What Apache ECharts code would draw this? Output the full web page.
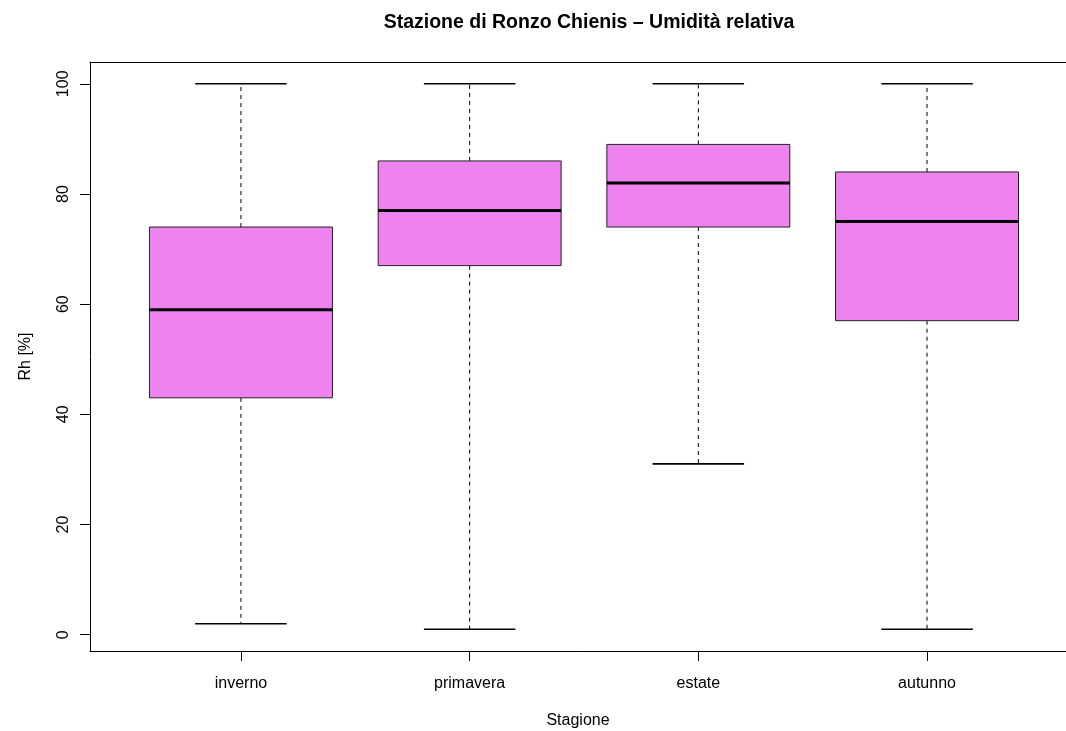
<!DOCTYPE html>
<html>
<head>
<meta charset="utf-8">
<script src="https://cdn.jsdelivr.net/npm/echarts@6/dist/echarts.min.js"></script>
<style>
html,body{margin:0;padding:0;background:#fff;}
#chart{width:1066px;height:731px;}
</style>
</head>
<body>
<div id="chart"></div>
<script>
const categories = ['inverno', 'primavera', 'estate', 'autunno'];
const lowerWhisker = [2, 1, 31, 1];
const q1 = [43, 67, 74, 57];
const median = [59, 77, 82, 75];
const q3 = [74, 86, 89, 84];
const upperWhisker = [100, 100, 100, 100];
const yTicks = [0, 20, 40, 60, 80, 100];
const xTicks = [1, 2, 3, 4];

const data = categories.map((c, i) => [i + 1, lowerWhisker[i], q1[i], median[i], q3[i], upperWhisker[i]]);

const FONT = '"Liberation Sans", Arial, Helvetica, sans-serif';
const chart = echarts.init(document.getElementById('chart'));

function renderItem(params, api) {
  const x = api.value(0);
  const lo = api.value(1), a = api.value(2), m = api.value(3), b = api.value(4), hi = api.value(5);
  const half = 0.4, capHalf = 0.2;
  const p = (xx, yy) => api.coord([xx, yy]);
  const cx = p(x, 0)[0];
  const children = [];
  children.push({type:'line', shape:{x1:cx, y1:p(x,b)[1], x2:cx, y2:p(x,hi)[1]},
    style:{stroke:'#000', lineWidth:1, lineDash:[4,4]}});
  children.push({type:'line', shape:{x1:cx, y1:p(x,a)[1], x2:cx, y2:p(x,lo)[1]},
    style:{stroke:'#000', lineWidth:1, lineDash:[4,4]}});
  children.push({type:'line', shape:{x1:p(x-capHalf,hi)[0], y1:p(x,hi)[1], x2:p(x+capHalf,hi)[0], y2:p(x,hi)[1]},
    style:{stroke:'#000', lineWidth:1.6}});
  children.push({type:'line', shape:{x1:p(x-capHalf,lo)[0], y1:p(x,lo)[1], x2:p(x+capHalf,lo)[0], y2:p(x,lo)[1]},
    style:{stroke:'#000', lineWidth:1.6}});
  const tl = p(x-half, b), br = p(x+half, a);
  children.push({type:'rect', shape:{x:tl[0], y:tl[1], width:br[0]-tl[0], height:br[1]-tl[1]},
    style:{fill:'#EE82EE', stroke:'#222', lineWidth:1}});
  children.push({type:'line', shape:{x1:tl[0], y1:p(x,m)[1], x2:br[0], y2:p(x,m)[1]},
    style:{stroke:'#000', lineWidth:3}});
  return {type:'group', children};
}

chart.setOption({
  animation: false,
  backgroundColor: '#fff',
  title: {
    text: 'Stazione di Ronzo Chienis \u2013 Umidit\u00e0 relativa',
    left: 584, top: 8, textAlign: 'center',
    textStyle: {fontFamily: FONT, fontWeight: 'bold', fontSize: 19.5, color: '#000'}
  },
  grid: {left: 90, right: 0, top: 62, bottom: 80, outerBoundsMode: 'none', containLabel: false},
  xAxis: [{
    type: 'value', min: 0.34, max: 4.6076, position: 'bottom',
    name: 'Stagione', nameLocation: 'middle', nameGap: 62,
    nameTextStyle: {fontFamily: FONT, fontSize: 16, color: '#000'},
    axisLine: {show: true, onZero: false, lineStyle: {color: '#000', width: 1}},
    splitLine: {show: false},
    axisTick: {show: true, length: 10, customValues: xTicks, lineStyle: {color: '#000'}},
    axisLabel: {customValues: xTicks, margin: 25, fontFamily: FONT, fontSize: 16, color: '#000',
      formatter: v => categories[Math.round(v) - 1] || ''}
  }, {
    type: 'value', min: 0.34, max: 4.6076, position: 'top',
    axisLine: {show: true, onZero: false, lineStyle: {color: '#000', width: 1}},
    axisTick: {show: false}, axisLabel: {show: false}, splitLine: {show: false}
  }],
  yAxis: {
    type: 'value', min: -2.96, max: 103.96,
    name: 'Rh [%]', nameLocation: 'middle', nameGap: 56, nameRotate: 90,
    nameTextStyle: {fontFamily: FONT, fontSize: 16, color: '#000'},
    axisLine: {show: true, onZero: false, lineStyle: {color: '#000', width: 1}},
    splitLine: {show: false},
    axisTick: {show: true, length: 10, customValues: yTicks, lineStyle: {color: '#000'}},
    axisLabel: {customValues: yTicks, rotate: 90, margin: 18, fontFamily: FONT, fontSize: 16, color: '#000'}
  },
  series: [{
    type: 'custom',
    renderItem: renderItem,
    data: data,
    encode: {x: 0, y: [1, 2, 3, 4, 5]},
    clip: false
  }]
});
</script>
</body>
</html>
